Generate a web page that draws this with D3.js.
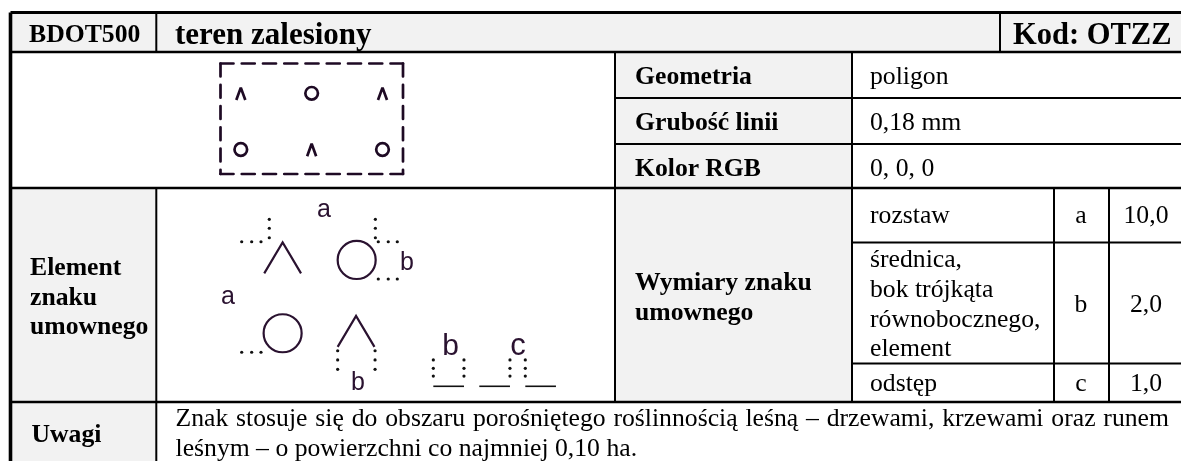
<!DOCTYPE html>
<html>
<head>
<meta charset="utf-8">
<script src="https://d3js.org/d3.v7.min.js"></script>
<style>
  html, body { margin: 0; padding: 0; background: #fff; }
  svg { display: block; filter: blur(0.35px); }
  text { font-family: "Liberation Serif", serif; fill: #000; }
  .sans { font-family: "Liberation Sans", sans-serif; fill: #2a1230; }
</style>
</head>
<body>
<svg id="chart"></svg>
<script>
// table texts
const headerTexts = ["BDOT500", "teren zalesiony", "Kod: OTZZ"];
const attrLabels = ["Geometria", "Grubość linii", "Kolor RGB"];
const attrValues = ["poligon", "0,18 mm", "0, 0, 0"];
const elementLabel = ["Element", "znaku", "umownego"];
const dimLabel = ["Wymiary znaku", "umownego"];
const dimNames = [["rozstaw"], ["średnica,", "bok trójkąta", "równobocznego,", "element"], ["odstęp"]];
const dimKeys = ["a", "b", "c"];
const dimValues = ["10,0", "2,0", "1,0"];
const noteLabel = "Uwagi";
const noteLines = [
  "Znak stosuje się do obszaru porośniętego roślinnością leśną – drzewami, krzewami oraz runem",
  "leśnym – o powierzchni co najmniej 0,10 ha."
];

// sample pattern, in grid rows
const patternRows = [["tree", "circle", "tree"], ["circle", "tree", "circle"]];

// detail drawing, all in mm
const elementMm = 2.0;
const gapMm = 1.0;
const detailTrees = [[8.26, 3.48], [13.05, 8.28]];
const detailCircles = [[13.09, 4.63], [8.26, 9.41]];
const detailDots = [
  [7.39, 1.98], [7.39, 2.56], [7.39, 3.18],
  [5.59, 3.44], [6.24, 3.44], [6.85, 3.44],
  [14.31, 1.98], [14.31, 2.56], [14.31, 3.18],
  [14.5, 3.44], [15.15, 3.44], [15.74, 3.44],
  [14.5, 5.87], [15.15, 5.87], [15.74, 5.87],
  [5.59, 10.65], [6.24, 10.65], [6.85, 10.65],
  [11.85, 10.55], [11.85, 11.15], [11.85, 11.76],
  [14.29, 10.55], [14.29, 11.15], [14.29, 11.76],
  [18.09, 11.15], [18.09, 11.7], [18.09, 12.2],
  [20.09, 11.15], [20.09, 11.7], [20.09, 12.2],
  [23.09, 11.15], [23.09, 11.7], [23.09, 12.2],
  [24.09, 11.15], [24.09, 11.7], [24.09, 12.2]
];
const detailLabels = [
  ["a", 10.96, 1.81, 25], ["b", 16.37, 5.28, 25],
  ["a", 4.7, 7.5, 25], ["b", 13.18, 13.11, 25],
  ["b", 19.21, 10.83, 30], ["c", 23.61, 10.83, 31]
];
const treeHalfMm = 1.2;
const treeHeightMm = 2.02;
const circleRadiusMm = 1.24;
const dashSegments = ["b", "c", "b", "c", "b"];

const width = 1181, height = 461;
const grey = "#f2f2f2";
const ink = "#2a1230";
const bodySize = 25.7;

const svg = d3.select("#chart").attr("width", width).attr("height", height);

const colX = d3.scaleOrdinal()
  .domain(["left", "first", "mid", "attr", "head", "name", "key", "right"])
  .range([10.5, 156.3, 615, 852, 1000, 1054, 1109, 1181]);
const rowY = d3.scaleOrdinal()
  .domain(["top", "head", "r1", "r2", "r3", "a", "b", "c", "bottom"])
  .range([12.5, 52, 98, 144, 188, 242.5, 363.5, 402, 461]);

// grey fills
const fills = [
  ["left", "right", "top", "head"],
  ["left", "first", "r3", "bottom"],
  ["mid", "attr", "head", "c"]
];
svg.append("g").selectAll("rect").data(fills).join("rect")
  .attr("x", d => colX(d[0]))
  .attr("y", d => rowY(d[2]))
  .attr("width", d => colX(d[1]) - colX(d[0]))
  .attr("height", d => rowY(d[3]) - rowY(d[2]))
  .attr("fill", grey);

// grid lines: horizontal [row, from, to], vertical [col, from, to]
const hLines = [
  ["top", "left", "right", 3.2],
  ["head", "left", "right", 2.4],
  ["r1", "mid", "right", 2], ["r2", "mid", "right", 2],
  ["r3", "left", "right", 2.4],
  ["a", "attr", "right", 2], ["b", "attr", "right", 2],
  ["c", "left", "right", 2.4]
];
const vLines = [
  ["left", "top", "bottom", 3.6],
  ["first", "top", "head", 2], ["first", "r3", "bottom", 2],
  ["head", "top", "head", 2],
  ["mid", "head", "c", 2], ["attr", "head", "c", 2],
  ["name", "r3", "c", 2], ["key", "r3", "c", 2]
];
const grid = svg.append("g").attr("stroke", "#000");
grid.selectAll(".h").data(hLines).join("line").attr("class", "h")
  .attr("x1", d => colX(d[1])).attr("x2", d => colX(d[2]))
  .attr("y1", d => rowY(d[0])).attr("y2", d => rowY(d[0]))
  .attr("stroke-width", d => d[3]);
grid.selectAll(".v").data(vLines).join("line").attr("class", "v")
  .attr("x1", d => colX(d[0])).attr("x2", d => colX(d[0]))
  .attr("y1", d => rowY(d[1])).attr("y2", d => rowY(d[2]))
  .attr("stroke-width", d => d[3]);

function label(txt, x, y, size, bold, anchor) {
  return svg.append("text").text(txt)
    .attr("x", x).attr("y", y)
    .attr("font-size", size)
    .attr("font-weight", bold ? "bold" : "normal")
    .attr("text-anchor", anchor || "start");
}

// header
label(headerTexts[0], 29, 42, bodySize, true);
label(headerTexts[1], 175, 43.5, 31, true);
label(headerTexts[2], 1013, 43.5, 30.5, true);

// attribute rows
const attrBase = [84, 130, 176];
attrLabels.forEach((t, i) => label(t, 635, attrBase[i], bodySize, true));
attrValues.forEach((t, i) => label(t, 870, attrBase[i], bodySize, false));

// left column and dimensions
elementLabel.forEach((t, i) => label(t, 30, 275 + i * 29.5, bodySize, true));
dimLabel.forEach((t, i) => label(t, 635, 290 + i * 30, bodySize, true));
const dimBase = [[223], [267, 296.7, 326.7, 355.7], [391]];
dimNames.forEach((lines, i) => lines.forEach((t, j) => label(t, 870, dimBase[i][j], bodySize, false)));
const dimMid = [223, 312, 391];
dimKeys.forEach((t, i) => label(t, 1081, dimMid[i], bodySize, false, "middle"));
dimValues.forEach((t, i) => label(t, 1146, dimMid[i], bodySize, false, "middle"));

// note, first line justified to the cell width
label(noteLabel, 31.5, 441.7, bodySize, true);
noteLines.forEach((t, i) => {
  const n = label(t, 175.5, 426 + i * 30, bodySize, false);
  if (i === 0) {
    const extra = (1169 - 175.5 - n.node().getComputedTextLength()) / (t.split(" ").length - 1);
    n.attr("word-spacing", extra);
  }
});

// sample symbol
const sampleX = d3.scalePoint().domain([0, 1, 2]).range([240.8, 382.5]);
const sampleY = d3.scalePoint().domain([0, 1]).range([93.3, 149.5]);
const line = d3.line();
const sample = svg.append("g").attr("fill", "none").attr("stroke", "#1e0a24").attr("stroke-width", 2.7);
const boxX = d3.scaleLinear().domain([0, 1]).range([220.5, 403]);
const boxY = d3.scaleLinear().domain([0, 1]).range([63.5, 174]);
const boxSides = [[[0, 0], [1, 0]], [[0, 0], [0, 1]], [[1, 0], [1, 1]], [[0, 1], [1, 1]]];
sample.selectAll(".side").data(boxSides).join("path").attr("class", "side")
  .attr("d", d => line(d.map(p => [boxX(p[0]), boxY(p[1])])))
  .attr("stroke-dasharray", "13 8.25")
  .attr("stroke-linecap", "round");
patternRows.forEach((row, r) => row.forEach((kind, c) => {
  const x = sampleX(c), y = sampleY(r);
  if (kind === "circle") {
    sample.append("circle").attr("cx", x).attr("cy", y).attr("r", 6.3);
  } else {
    sample.append("path").attr("d", line([[x - 4.5, y + 6.7], [x, y - 5.7], [x + 4.5, y + 6.7]]))
      .attr("stroke-linejoin", "bevel");
  }
}));

// detail drawing
const mmX = d3.scaleLinear().domain([0, 1]).range([156, 171.33]);
const mmY = d3.scaleLinear().domain([0, 1]).range([189, 204.33]);
const mmLen = d3.scaleLinear().domain([0, 1]).range([0, 15.33]);
const detail = svg.append("g");
detail.selectAll(".tree").data(detailTrees).join("path").attr("class", "tree")
  .attr("d", d => line([
    [mmX(d[0] - treeHalfMm), mmY(d[1] + treeHeightMm)],
    [mmX(d[0]), mmY(d[1])],
    [mmX(d[0] + treeHalfMm), mmY(d[1] + treeHeightMm)]
  ]))
  .attr("fill", "none").attr("stroke", ink).attr("stroke-width", 2.2);
detail.selectAll(".ring").data(detailCircles).join("circle").attr("class", "ring")
  .attr("cx", d => mmX(d[0])).attr("cy", d => mmY(d[1]))
  .attr("r", mmLen(circleRadiusMm))
  .attr("fill", "none").attr("stroke", ink).attr("stroke-width", 2.2);
detail.selectAll(".dot").data(detailDots).join("circle").attr("class", "dot")
  .attr("cx", d => mmX(d[0])).attr("cy", d => mmY(d[1]))
  .attr("r", 1.6).attr("fill", "#111");
detail.selectAll(".letter").data(detailLabels).join("text").attr("class", "letter sans")
  .attr("x", d => mmX(d[1])).attr("y", d => mmY(d[2]))
  .attr("font-size", d => d[3]).attr("text-anchor", "middle")
  .text(d => d[0]);

// dash row below the dots: element, gap, element, gap, element
let pos = 18.09;
dashSegments.forEach(kind => {
  const len = kind === "b" ? elementMm : gapMm;
  if (kind === "b") {
    detail.append("line")
      .attr("x1", mmX(pos)).attr("x2", mmX(pos + len))
      .attr("y1", mmY(12.87)).attr("y2", mmY(12.87))
      .attr("stroke", "#111").attr("stroke-width", 1.6);
  }
  pos += len;
});
</script>
</body>
</html>
